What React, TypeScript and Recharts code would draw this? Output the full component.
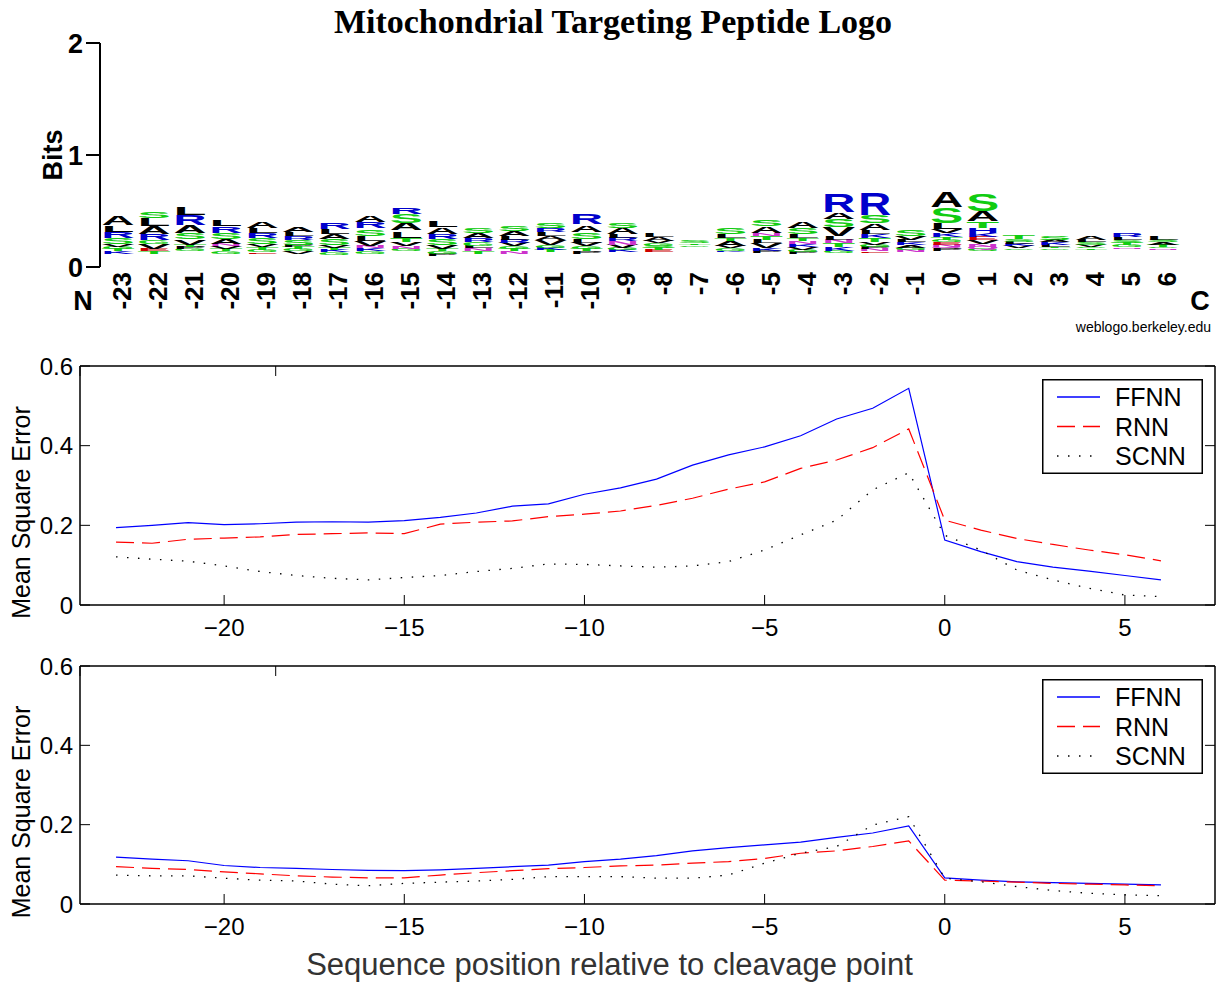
import React from 'react';
import { BarChart, Bar, LineChart, Line, XAxis, YAxis, Legend } from 'recharts';

const FONT = '"Liberation Sans", Arial, Helvetica, sans-serif';
const SERIF = '"Liberation Serif", "Times New Roman", serif';

// ---------- Sequence logo data ----------
const logoPositions = [-23, -22, -21, -20, -19, -18, -17, -16, -15, -14, -13, -12, -11, -10, -9, -8, -7, -6, -5, -4, -3, -2, -1, 0, 1, 2, 3, 4, 5, 6];

// bits taken by the many letters too small to be drawn (bottom of each stack)
const logoBase = [0.12, 0.12, 0.14, 0.12, 0.12, 0.12, 0.11, 0.12, 0.14, 0.10, 0.12, 0.12, 0.13, 0.12, 0.13, 0.13, 0.18, 0.13, 0.125, 0.115, 0.125, 0.125, 0.13, 0.145, 0.14, 0.15, 0.15, 0.15, 0.16, 0.15];

// letter stacks, listed top -> bottom, heights in bits
const logoStacks: [string, number][][] = [
  [['A', 0.08], ['L', 0.055], ['R', 0.055], ['S', 0.055], ['V', 0.025], ['G', 0.02], ['T', 0.02], ['K', 0.02]],
  [['S', 0.065], ['L', 0.07], ['A', 0.07], ['R', 0.055], ['G', 0.035], ['V', 0.045], ['E', 0.02], ['T', 0.02]],
  [['L', 0.07], ['R', 0.09], ['A', 0.07], ['S', 0.055], ['V', 0.045], ['T', 0.02], ['P', 0.02], ['G', 0.02]],
  [['L', 0.055], ['R', 0.06], ['S', 0.055], ['A', 0.045], ['N', 0.02], ['V', 0.025], ['T', 0.02], ['G', 0.02]],
  [['A', 0.055], ['L', 0.045], ['R', 0.045], ['S', 0.06], ['V', 0.025], ['T', 0.02], ['G', 0.02], ['E', 0.015]],
  [['A', 0.045], ['L', 0.035], ['R', 0.035], ['S', 0.045], ['P', 0.02], ['T', 0.02], ['G', 0.02], ['V', 0.02]],
  [['R', 0.055], ['L', 0.045], ['A', 0.045], ['S', 0.055], ['V', 0.025], ['T', 0.02], ['K', 0.02], ['G', 0.02]],
  [['A', 0.06], ['R', 0.055], ['S', 0.065], ['L', 0.045], ['V', 0.045], ['N', 0.025], ['K', 0.025], ['G', 0.02]],
  [['R', 0.065], ['S', 0.08], ['A', 0.07], ['L', 0.065], ['T', 0.035], ['V', 0.04], ['N', 0.025], ['G', 0.02]],
  [['L', 0.065], ['A', 0.065], ['R', 0.045], ['S', 0.055], ['V', 0.035], ['T', 0.02], ['G', 0.02], ['P', 0.02]],
  [['S', 0.045], ['A', 0.045], ['R', 0.035], ['G', 0.035], ['L', 0.025], ['N', 0.025], ['T', 0.02]],
  [['S', 0.045], ['A', 0.045], ['L', 0.035], ['R', 0.03], ['V', 0.03], ['G', 0.025], ['T', 0.02], ['N', 0.02]],
  [['S', 0.045], ['R', 0.04], ['L', 0.035], ['A', 0.035], ['V', 0.045], ['G', 0.025], ['K', 0.02], ['T', 0.02]],
  [['R', 0.09], ['A', 0.065], ['S', 0.065], ['L', 0.035], ['V', 0.03], ['G', 0.025], ['T', 0.02], ['P', 0.02]],
  [['S', 0.045], ['A', 0.055], ['L', 0.035], ['R', 0.03], ['N', 0.03], ['V', 0.03], ['G', 0.02], ['K', 0.02]],
  [['L', 0.035], ['A', 0.03], ['V', 0.025], ['G', 0.02], ['S', 0.02], ['T', 0.02], ['E', 0.02]],
  [['S', 0.02], ['T', 0.015], ['G', 0.015]],
  [['S', 0.055], ['L', 0.035], ['T', 0.025], ['A', 0.045], ['V', 0.02], ['G', 0.02], ['K', 0.015]],
  [['S', 0.055], ['A', 0.065], ['N', 0.025], ['T', 0.03], ['L', 0.03], ['V', 0.045], ['K', 0.025], ['P', 0.02]],
  [['A', 0.065], ['S', 0.055], ['L', 0.035], ['T', 0.025], ['N', 0.025], ['K', 0.025], ['V', 0.025], ['G', 0.02], ['P', 0.02]],
  [['R', 0.17], ['A', 0.065], ['S', 0.07], ['V', 0.08], ['L', 0.03], ['N', 0.035], ['T', 0.035], ['K', 0.03], ['G', 0.02]],
  [['R', 0.2], ['S', 0.07], ['A', 0.065], ['L', 0.035], ['K', 0.03], ['T', 0.035], ['V', 0.025], ['G', 0.02], ['P', 0.02], ['N', 0.02], ['E', 0.015]],
  [['S', 0.06], ['V', 0.035], ['L', 0.025], ['K', 0.025], ['A', 0.025], ['G', 0.02], ['N', 0.02]],
  [['A', 0.14], ['S', 0.14], ['L', 0.055], ['V', 0.035], ['K', 0.035], ['T', 0.025], ['G', 0.02], ['E', 0.02], ['N', 0.02], ['Q', 0.015], ['P', 0.02]],
  [['S', 0.15], ['A', 0.09], ['T', 0.055], ['H', 0.045], ['K', 0.035], ['E', 0.03], ['V', 0.035], ['N', 0.025], ['Q', 0.02], ['G', 0.02]],
  [['T', 0.035], ['S', 0.025], ['L', 0.02], ['K', 0.02], ['V', 0.02], ['G', 0.015]],
  [['S', 0.03], ['A', 0.025], ['K', 0.02], ['L', 0.02], ['T', 0.015], ['G', 0.015]],
  [['A', 0.035], ['L', 0.02], ['S', 0.02], ['V', 0.02], ['G', 0.015], ['T', 0.015]],
  [['R', 0.035], ['L', 0.025], ['S', 0.025], ['T', 0.02], ['G', 0.02], ['N', 0.015]],
  [['L', 0.03], ['S', 0.025], ['A', 0.02], ['T', 0.02], ['G', 0.015], ['N', 0.015]],
];

const bitsTicks = [0, 1, 2];

const LETTER_COLORS: Record<string, string> = {
  A: '#000000', L: '#000000', V: '#000000', I: '#000000', P: '#000000', W: '#000000', F: '#000000', M: '#000000',
  R: '#0000cc', K: '#0000cc', H: '#0000cc',
  S: '#11cc11', T: '#11cc11', G: '#11cc11', Y: '#11cc11', C: '#11cc11',
  N: '#cc33cc', Q: '#cc33cc',
  D: '#cc0000', E: '#cc0000',
};

// ---------- MSE line data ----------
const positions = [-23, -22, -21, -20, -19, -18, -17, -16, -15, -14, -13, -12, -11, -10, -9, -8, -7, -6, -5, -4, -3, -2, -1, 0, 1, 2, 3, 4, 5, 6];

const midFFNN = [0.194, 0.200, 0.207, 0.202, 0.204, 0.208, 0.209, 0.208, 0.212, 0.220, 0.231, 0.248, 0.254, 0.278, 0.294, 0.316, 0.351, 0.377, 0.397, 0.425, 0.467, 0.494, 0.544, 0.163, 0.134, 0.109, 0.095, 0.085, 0.074, 0.063];
const midRNN = [0.158, 0.155, 0.165, 0.168, 0.171, 0.177, 0.179, 0.181, 0.179, 0.203, 0.208, 0.211, 0.222, 0.228, 0.236, 0.250, 0.268, 0.291, 0.309, 0.343, 0.364, 0.395, 0.442, 0.213, 0.188, 0.167, 0.152, 0.138, 0.126, 0.111];
const midSCNN = [0.121, 0.115, 0.110, 0.098, 0.084, 0.074, 0.067, 0.063, 0.069, 0.074, 0.084, 0.092, 0.103, 0.102, 0.098, 0.095, 0.098, 0.109, 0.138, 0.176, 0.213, 0.289, 0.332, 0.175, 0.138, 0.088, 0.063, 0.042, 0.025, 0.021];

const botFFNN = [0.118, 0.113, 0.109, 0.097, 0.092, 0.090, 0.087, 0.085, 0.084, 0.086, 0.090, 0.094, 0.098, 0.107, 0.113, 0.122, 0.134, 0.142, 0.149, 0.156, 0.168, 0.179, 0.197, 0.066, 0.060, 0.056, 0.054, 0.052, 0.050, 0.048];
const botRNN = [0.094, 0.090, 0.087, 0.081, 0.076, 0.071, 0.068, 0.066, 0.066, 0.073, 0.079, 0.084, 0.089, 0.092, 0.096, 0.098, 0.103, 0.107, 0.115, 0.128, 0.134, 0.145, 0.159, 0.060, 0.058, 0.055, 0.052, 0.050, 0.048, 0.046];
const botSCNN = [0.073, 0.071, 0.071, 0.065, 0.060, 0.058, 0.050, 0.046, 0.052, 0.055, 0.058, 0.062, 0.069, 0.069, 0.069, 0.065, 0.065, 0.073, 0.103, 0.128, 0.145, 0.199, 0.220, 0.065, 0.056, 0.044, 0.034, 0.027, 0.023, 0.021];

const xTicks = [-20, -15, -10, -5, 0, 5];
const yTicks = [0, 0.2, 0.4, 0.6];
const seriesNames = ['FFNN', 'RNN', 'SCNN'];

// ---------- build tables ----------
const MAX_LAYERS = 1 + Math.max(...logoStacks.map((s) => s.length));
const logoRows = logoPositions.map((p, i) => {
  const layers: [string, number][] = [['', logoBase[i]], ...logoStacks[i].slice().reverse()];
  const row: Record<string, any> = { pos: String(p) };
  layers.forEach(([letter, h], k) => {
    row[`h${k}`] = h;
    row[`l${k}`] = letter;
  });
  return row;
});

const midRows = positions.map((p, i) => ({ pos: p, FFNN: midFFNN[i], RNN: midRNN[i], SCNN: midSCNN[i] }));
const botRows = positions.map((p, i) => ({ pos: p, FFNN: botFFNN[i], RNN: botRNN[i], SCNN: botSCNN[i] }));

// ---------- renderers ----------
const makeLetterShape = (layer: number) => (props: any) => {
  const { x, y, width, height, payload } = props;
  const letter = payload ? payload[`l${layer}`] : '';
  if (!letter || !height || height <= 0.1) return <g />;
  const sx = width / 100;
  const sy = height / 73;
  return (
    <g transform={`translate(${x},${y + height - height * 0.015}) scale(${sx},${sy})`}>
      <text
        x={0}
        y={0}
        fontSize={100}
        fontWeight="bold"
        fontFamily={FONT}
        textLength={100}
        lengthAdjust="spacingAndGlyphs"
        fill={LETTER_COLORS[letter] || '#000'}
      >
        {letter}
      </text>
    </g>
  );
};

const PositionTick = (props: any) => {
  const { x, y, payload } = props;
  const bx = x + 13;
  return (
    <text
      x={bx}
      y={y}
      transform={`rotate(-90 ${bx} ${y})`}
      textAnchor="end"
      fontSize={26}
      fontWeight="bold"
      fontFamily={FONT}
      fill="#000"
    >
      {payload.value}
    </text>
  );
};

const BitsLabel = (props: any) => {
  const vb = props.viewBox || { x: 0, y: 43, width: 100, height: 224 };
  const x = vb.x + 62;
  const y = vb.y + vb.height / 2;
  return (
    <text x={x} y={y} transform={`rotate(-90 ${x} ${y})`} textAnchor="middle" fontSize={27} fontWeight="bold" fontFamily={FONT} fill="#000">
      Bits
    </text>
  );
};

const MSELabel = (props: any) => {
  const vb = props.viewBox || { x: 20, y: 0, width: 60, height: 240 };
  const x = vb.x + 10;
  const y = vb.y + vb.height / 2 + 27;
  return (
    <text x={x} y={y} transform={`rotate(-90 ${x} ${y})`} textAnchor="middle" fontSize={25} fontFamily={FONT} fill="#000">
      Mean Square Error
    </text>
  );
};

const XTitle = (props: any) => {
  const vb = props.viewBox || { x: 80, y: 254, width: 1135, height: 40 };
  const x = vb.x + vb.width / 2 - 38;
  const y = vb.y + 71;
  return (
    <text x={x} y={y} textAnchor="middle" fontSize={31} fontFamily={FONT} fill="#333">
      Sequence position relative to cleavage point
    </text>
  );
};

const DASH: Record<string, string | undefined> = { FFNN: undefined, RNN: '18 8', SCNN: '1.5 9.5' };
const COLOR: Record<string, string> = { FFNN: '#0000ff', RNN: '#ff0000', SCNN: '#000000' };

const LegendBox = (props: any) => {
  const payload = props.payload || [];
  return (
    <svg width={161} height={95} style={{ display: 'block' }}>
      <rect x={0.75} y={0.75} width={159.5} height={93.5} fill="#fff" stroke="#000" strokeWidth={1.5} />
      {payload.map((e: any, i: number) => {
        const y = 18 + i * 29.5;
        const name = e.value;
        return (
          <g key={name}>
            <line x1={15} x2={58} y1={y} y2={y} stroke={e.color || COLOR[name]} strokeWidth={1.3} strokeDasharray={DASH[name]} />
            <text x={73} y={y + 9} fontSize={25} fontFamily={FONT} fill="#000">
              {name}
            </text>
          </g>
        );
      })}
    </svg>
  );
};

const fmtX = (v: number) => (v < 0 ? `\u2212${-v}` : `${v}`);
const fmtY = (v: number) => (v === 0 ? '0' : v.toFixed(1));
const hiddenTick = () => <g />;

const MSEChart = (props: { data: any[]; top: number; height: number; margin: any; legendTop: number; xTitle?: boolean }) => {
  const { data, top, height, margin, legendTop, xTitle } = props;
  return (
    <div style={{ position: 'absolute', left: 0, top, width: 1220, height }}>
      <LineChart width={1220} height={height} data={data} margin={margin}>
        <XAxis
          xAxisId="main"
          dataKey="pos"
          type="number"
          domain={[-24, 7.5]}
          ticks={xTicks}
          allowDataOverflow
          tickFormatter={fmtX}
          height={40}
          tickSize={-10}
          tickMargin={24}
          axisLine={{ stroke: '#000', strokeWidth: 1.5 }}
          tickLine={{ stroke: '#000', strokeWidth: 1 }}
          tick={{ fontSize: 24, fill: '#000', fontFamily: FONT }}
          label={xTitle ? { content: XTitle } : undefined}
        />
        <XAxis
          xAxisId="top"
          orientation="top"
          type="number"
          domain={[-24, 7.5]}
          ticks={xTicks}
          allowDataOverflow
          mirror
          tickSize={10}
          axisLine={{ stroke: '#000', strokeWidth: 1.5 }}
          tickLine={{ stroke: '#000', strokeWidth: 1 }}
          tick={hiddenTick}
        />
        <YAxis
          yAxisId="main"
          domain={[0, 0.6]}
          ticks={yTicks}
          allowDataOverflow
          width={60}
          tickFormatter={fmtY}
          tickSize={-10}
          tickMargin={17}
          axisLine={{ stroke: '#000', strokeWidth: 1.5 }}
          tickLine={{ stroke: '#000', strokeWidth: 1 }}
          tick={{ fontSize: 24, fill: '#000', fontFamily: FONT }}
          label={{ content: MSELabel }}
        />
        <YAxis
          yAxisId="right"
          orientation="right"
          domain={[0, 0.6]}
          ticks={yTicks}
          allowDataOverflow
          mirror
          tickSize={10}
          axisLine={{ stroke: '#000', strokeWidth: 1.5 }}
          tickLine={{ stroke: '#000', strokeWidth: 1 }}
          tick={hiddenTick}
        />
        {seriesNames.map((name) => (
          <Line
            key={name}
            xAxisId="main"
            yAxisId="main"
            type="linear"
            dataKey={name}
            name={name}
            stroke={COLOR[name]}
            strokeWidth={name === 'SCNN' ? 1.3 : 1.2}
            strokeDasharray={DASH[name]}
            dot={false}
            activeDot={false}
            isAnimationActive={false}
          />
        ))}
        <Legend
          layout="horizontal"
          verticalAlign="middle"
          align="center"
          width={161}
          height={95}
          content={LegendBox}
          wrapperStyle={{ left: 1042, top: legendTop, width: 161, height: 95 }}
        />
      </LineChart>
    </div>
  );
};

export default function App() {
  return (
    <div style={{ position: 'absolute', left: 0, top: 0, width: 1220, height: 984, background: '#fff', overflow: 'hidden' }}>
      {/* Sequence logo */}
      <div style={{ position: 'absolute', left: 0, top: 0, width: 1220, height: 340 }}>
        <BarChart width={1220} height={340} data={logoRows} margin={{ top: 43, right: 39, bottom: 0, left: 0 }} barCategoryGap={1.5}>
          <XAxis
            dataKey="pos"
            type="category"
            interval={0}
            height={73}
            axisLine={false}
            tickLine={false}
            tickSize={0}
            tickMargin={5}
            tick={PositionTick}
          />
          <YAxis
            domain={[0, 2]}
            ticks={bitsTicks}
            allowDataOverflow
            width={100}
            tickSize={14}
            tickMargin={3}
            axisLine={{ stroke: '#000', strokeWidth: 2 }}
            tickLine={{ stroke: '#000', strokeWidth: 2 }}
            tick={{ fontSize: 27, fontWeight: 'bold', fill: '#000', fontFamily: FONT }}
            label={{ content: BitsLabel }}
          />
          {Array.from({ length: MAX_LAYERS }, (_, k) => (
            <Bar key={k} dataKey={`h${k}`} stackId="logo" shape={makeLetterShape(k)} isAnimationActive={false} />
          ))}
        </BarChart>
      </div>
      <svg width={1220} height={340} style={{ position: 'absolute', left: 0, top: 0, pointerEvents: 'none' }}>
        <text x={613} y={33} textAnchor="middle" fontSize={34} fontWeight="bold" fontFamily={SERIF} fill="#000">
          Mitochondrial Targeting Peptide Logo
        </text>
        <text x={83} y={310} textAnchor="middle" fontSize={27} fontWeight="bold" fontFamily={FONT} fill="#000">
          N
        </text>
        <text x={1200} y={310} textAnchor="middle" fontSize={27} fontWeight="bold" fontFamily={FONT} fill="#000">
          C
        </text>
        <text x={1211} y={332} textAnchor="end" fontSize={14} fontFamily={FONT} fill="#000">
          weblogo.berkeley.edu
        </text>
      </svg>

      <MSEChart data={midRows} top={340} height={310} margin={{ top: 26, right: 5, bottom: 5, left: 20 }} legendTop={39} />
      <MSEChart data={botRows} top={650} height={334} margin={{ top: 16, right: 5, bottom: 40, left: 20 }} legendTop={29} xTitle />
    </div>
  );
}
